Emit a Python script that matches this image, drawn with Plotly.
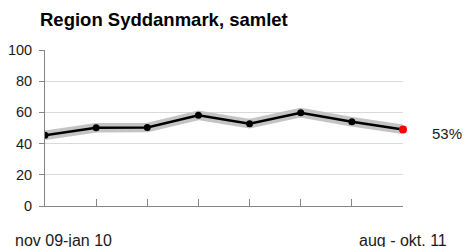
import plotly.graph_objects as go

periods = ["nov 09-jan 10", "p2", "p3", "p4", "p5", "p6", "p7", "aug - okt. 11"]
values = [45.3, 50.2, 50.3, 58.1, 52.8, 59.8, 54.0, 49.1]
last_label = "53%"
title = "Region Syddanmark, samlet"
yticks = [0, 20, 40, 60, 80, 100]

xs = list(range(len(periods)))
FONT = "Liberation Sans, Arial, sans-serif"
W, H = 465, 247

fig = go.Figure()
fig.add_trace(go.Scatter(x=xs, y=values, mode="lines",
                         line=dict(color="#c4c4c4", width=9.5), hoverinfo="skip"))
fig.add_trace(go.Scatter(x=xs, y=values, mode="lines+markers",
                         line=dict(color="#000000", width=2.5),
                         marker=dict(color="#000000", size=7)))
fig.add_trace(go.Scatter(x=[xs[-1]], y=[values[-1]], mode="markers",
                         marker=dict(color="#ff0000", size=8), cliponaxis=False))

fig.update_layout(
    width=W, height=H,
    margin=dict(l=45, r=62, t=50, b=41, autoexpand=False),
    paper_bgcolor="white", plot_bgcolor="white",
    showlegend=False,
    font=dict(family=FONT, color="#1a1a1a", size=14),
    title=dict(text="<b>" + title + "</b>", x=40/W, xanchor="left",
               y=1 - 20/H, yanchor="middle", xref="container", yref="container",
               font=dict(family=FONT, size=18.5, color="#000000")),
)
fig.update_xaxes(range=[0, len(periods) - 1], tickmode="array", tickvals=xs,
                 showticklabels=False, ticks="inside", ticklen=7, tickcolor="#868686",
                 showgrid=False, zeroline=False, showline=True, linecolor="#868686",
                 linewidth=1, automargin=False)
fig.update_yaxes(range=[0, 100], tickmode="array", tickvals=yticks,
                 ticks="outside", ticklen=5, tickcolor="#868686",
                 showgrid=True, gridcolor="#d9d9d9", gridwidth=1,
                 zeroline=False, showline=True, linecolor="#868686", linewidth=1,
                 ticklabelstandoff=4, automargin=False,
                 tickfont=dict(size=14.5, color="#1a1a1a"))

fig.add_annotation(text=periods[0], xref="paper", yref="paper", x=-32/358, y=-34/156,
                   xanchor="left", yanchor="middle", showarrow=False,
                   font=dict(size=16, color="#1a1a1a"))
fig.add_annotation(text=periods[-1], x=xs[-1], xref="x", yref="paper", y=-34/156,
                   xanchor="center", yanchor="middle", showarrow=False,
                   font=dict(size=16, color="#1a1a1a"))
fig.add_annotation(text=last_label, x=xs[-1], y=values[-1], xref="x", yref="y",
                   xshift=44, yshift=-4, xanchor="center", yanchor="middle",
                   showarrow=False, font=dict(size=15, color="#1a1a1a"))

fig.write_html("out.html",
               config={"displayModeBar": False},
               post_script="document.body.style.margin='0';"
                           "document.body.style.overflow='hidden';")
